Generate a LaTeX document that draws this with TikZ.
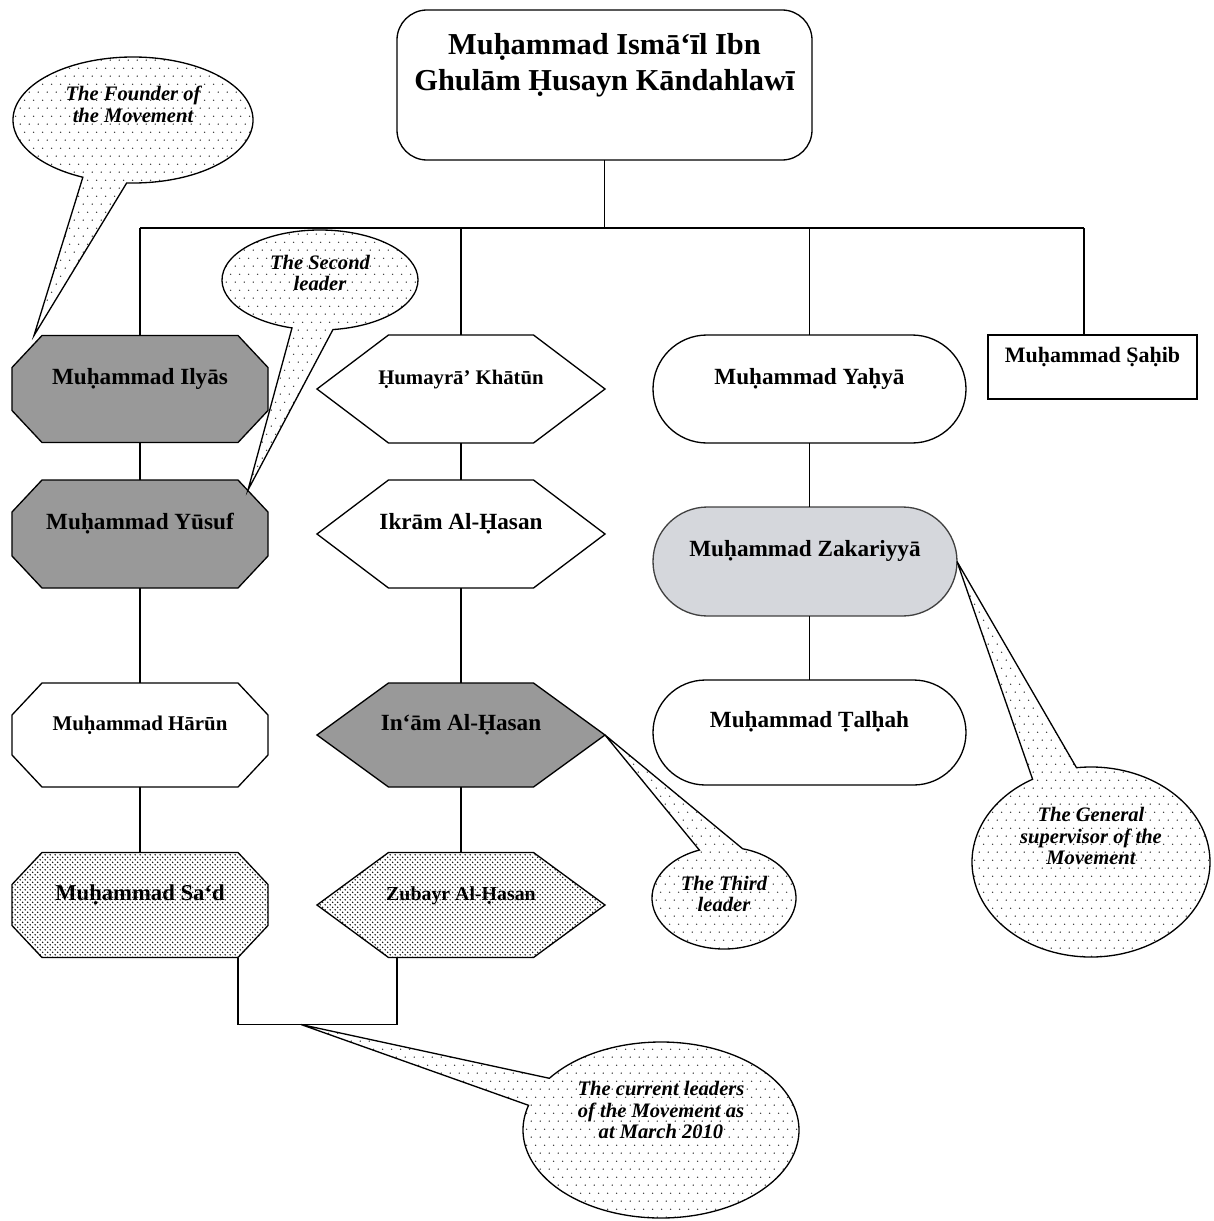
\documentclass[tikz,border=0pt]{standalone}
\usepackage{fontspec}
\setmainfont{Liberation Serif}
\usetikzlibrary{calc,patterns.meta,backgrounds}

\tikzdeclarepattern{
  name=calloutdots,
  type=uncolored,
  bottom left={(0pt,0pt)},
  top right={(5.1pt,9pt)},
  tile size={(5.1pt,9pt)},
  code={
    \tikzset{x=1pt,y=1pt}
    \fill (1.275,2.25) circle (0.42);
    \fill (3.825,6.75) circle (0.42);
  }
}
\tikzdeclarepattern{
  name=densedots,
  type=uncolored,
  bottom left={(0pt,0pt)},
  top right={(2.8pt,2.8pt)},
  tile size={(2.8pt,2.8pt)},
  code={
    \tikzset{x=1pt,y=1pt}
    \fill (0.7,0.7) circle (0.45);
    \fill (2.1,2.1) circle (0.45);
  }
}

% outlines round the member nodes
\newcommand\octpath[1]{([xshift=6mm]#1.north west) -- ([xshift=-6mm]#1.north east) -- ([yshift=-6.4mm]#1.north east) -- ([yshift=6.4mm]#1.south east) -- ([xshift=-6mm]#1.south east) -- ([xshift=6mm]#1.south west) -- ([yshift=6.4mm]#1.south west) -- ([yshift=-6.4mm]#1.north west) -- cycle}
\newcommand\hexpath[1]{([xshift=14.3mm]#1.north west) -- ([xshift=-14.3mm]#1.north east) -- (#1.east) -- ([xshift=-14.3mm]#1.south east) -- ([xshift=14.3mm]#1.south west) -- (#1.west) -- cycle}
% speech bubble: tip, centre, radii, angles where the tail meets the ellipse
\newcommand\bubblepath[6]{(#1) -- ($(#2)+(#5:#3 and #4)$) arc[start angle=#5, end angle=#6, x radius=#3, y radius=#4] -- cycle}

\begin{document}
\begin{tikzpicture}[x=0.2mm, y=-0.2mm,
  bigfont/.style={font=\bfseries\fontsize{13.2}{15.5}\selectfont},
  member/.style={inner sep=0pt, outer sep=0pt, text height=3.2mm, text depth=5.1mm},
  shapeline/.style={draw, line width=0.75pt, line join=miter},
  darkfill/.style={fill=black!40},
  plainfill/.style={fill=white},
  densefill/.style={preaction={fill=white}, pattern=densedots, pattern color=black},
  link/.style={line width=0.7pt},
  bubble/.style={draw, line width=0.75pt, line join=miter, preaction={fill=white},
    pattern=calloutdots, pattern color=black!80},
  bubbletext/.style={inner sep=0pt, align=center,
    font=\bfseries\itshape\fontsize{11.7}{12.4}\selectfont}]

\useasboundingbox (0,0) rectangle (1214,1221);

% top of the tree
\node[draw, line width=0.75pt, rounded corners=6mm, inner sep=0pt, outer sep=0pt,
  minimum width=83mm, minimum height=30mm,
  font=\bfseries\fontsize{17.3}{20.4}\selectfont] (title) at (604.5,85)
  {\begin{tabular}{@{}c@{}}Muḥammad Ismā‘īl Ibn\\Ghulām Ḥusayn Kāndahlawī\\[8mm]\end{tabular}};

% first column
\node[member, bigfont, minimum width=51.2mm, minimum height=21.4mm] (ilyas) at (140,389) {Muḥammad Ilyās};
\node[member, bigfont, minimum width=51.2mm, minimum height=21.6mm] (yusuf) at (140,534) {Muḥammad Yūsuf};
\node[member, font=\bfseries\fontsize{11.9}{14}\selectfont, minimum width=51.2mm, minimum height=20.8mm] (harun) at (140,735) {Muḥammad Hārūn};
\node[member, font=\bfseries\fontsize{12.9}{15}\selectfont, minimum width=51.2mm, minimum height=21mm] (sad) at (140,905) {Muḥammad Sa‘d};

% second column
\node[member, font=\bfseries\fontsize{11.8}{14}\selectfont, minimum width=57.6mm, minimum height=21.6mm] (humayra) at (461,389) {Ḥumayrā’ Khātūn};
\node[member, bigfont, minimum width=57.6mm, minimum height=21.6mm] (ikram) at (461,534) {Ikrām Al-Ḥasan};
\node[member, bigfont, minimum width=57.6mm, minimum height=20.8mm] (inam) at (461,735) {In‘ām Al-Ḥasan};
\node[member, font=\bfseries\fontsize{11.3}{13.5}\selectfont, minimum width=57.6mm, minimum height=21mm] (zubayr) at (461,905) {Zubayr Al-Ḥasan};

% third and fourth column
\node[member, bigfont, draw, line width=0.75pt, rounded corners=10.8mm, minimum width=62.6mm, minimum height=21.6mm] (yahya) at (809.5,389) {Muḥammad Yaḥyā};
\node[member, bigfont, draw=black!75, fill={rgb,255:red,213;green,215;blue,220}, line width=0.75pt, rounded corners=10.9mm, minimum width=60.8mm, minimum height=21.8mm] (zakariyya) at (805,561.5) {Muḥammad Zakariyyā};
\node[member, bigfont, draw, line width=0.75pt, rounded corners=10.5mm, minimum width=62.6mm, minimum height=21mm] (talhah) at (809.5,732.5) {Muḥammad Ṭalḥah};
\node[member, font=\bfseries\fontsize{12.5}{15}\selectfont, draw, line width=0.75pt, minimum width=41.8mm, minimum height=12.8mm] (sahib) at (1092.5,367) {Muḥammad Ṣaḥib};

\begin{scope}[on background layer]
\foreach \n/\s in {ilyas/darkfill, yusuf/darkfill, harun/plainfill, sad/densefill}
  \draw[shapeline, \s] \octpath{\n};
\foreach \n/\s in {humayra/plainfill, ikram/plainfill, inam/darkfill, zubayr/densefill}
  \draw[shapeline, \s] \hexpath{\n};
\end{scope}

% connectors
\coordinate (bar) at (604,228);
\coordinate (sdrop) at (1084,228);
\draw[link] (title) -- (title |- bar);
\draw[link] (ilyas |- bar) -- (sdrop);
\foreach \n in {ilyas,humayra,yahya}
  \draw[link] (\n |- bar) -- (\n.north);
\draw[link] (sdrop) -- (sdrop |- sahib.north);
\draw[link] (ilyas) -- (yusuf);
\draw[link] (yusuf) -- (harun);
\draw[link] (harun) -- (sad);
\draw[link] (humayra) -- (ikram);
\draw[link] (ikram) -- (inam);
\draw[link] (inam) -- (zubayr);
\draw[link] (yahya.south) -- (yahya.south |- zakariyya.north);
\draw[link] (yahya.south |- zakariyya.south) -- (yahya.south |- talhah.north);
\draw[link] ([xshift=-6mm]sad.south east) -- ++(0,67) coordinate (bracket) -| ([xshift=16mm]zubayr.south west);

% callouts
\coordinate (c1) at (133,120);
\coordinate (c2) at (320,280);
\coordinate (c3) at (724,898);
\coordinate (c4) at (1091,862);
\coordinate (c5) at (661,1130);
\draw[bubble] \bubblepath{[xshift=4.4mm]ilyas.north west}{c1}{120}{63}{114.7}{453};
\draw[bubble] \bubblepath{[xshift=-4mm,yshift=-2mm]yusuf.north east}{c2}{98}{50}{106.6}{442.4};
\draw[bubble] \bubblepath{inam.east}{c3}{72}{51}{285}{610};
\draw[bubble] \bubblepath{zakariyya.east}{c4}{119}{95}{263}{600.6};
\draw[bubble] \bubblepath{[xshift=12.6mm]bracket}{c5}{138}{88}{216}{556.3};

\node[bubbletext] (founder) at (133,104) {The Founder of\\the Movement};
\node[bubbletext] (second) at (320,273) {The Second\\leader};
\node[bubbletext] (third) at (724,894) {The Third\\leader};
\node[bubbletext] (general) at (1091,836) {The General\\supervisor of the\\Movement};
\node[bubbletext] (current) at (661,1110) {The current leaders\\of the Movement as\\at March 2010};

\end{tikzpicture}
\end{document}
